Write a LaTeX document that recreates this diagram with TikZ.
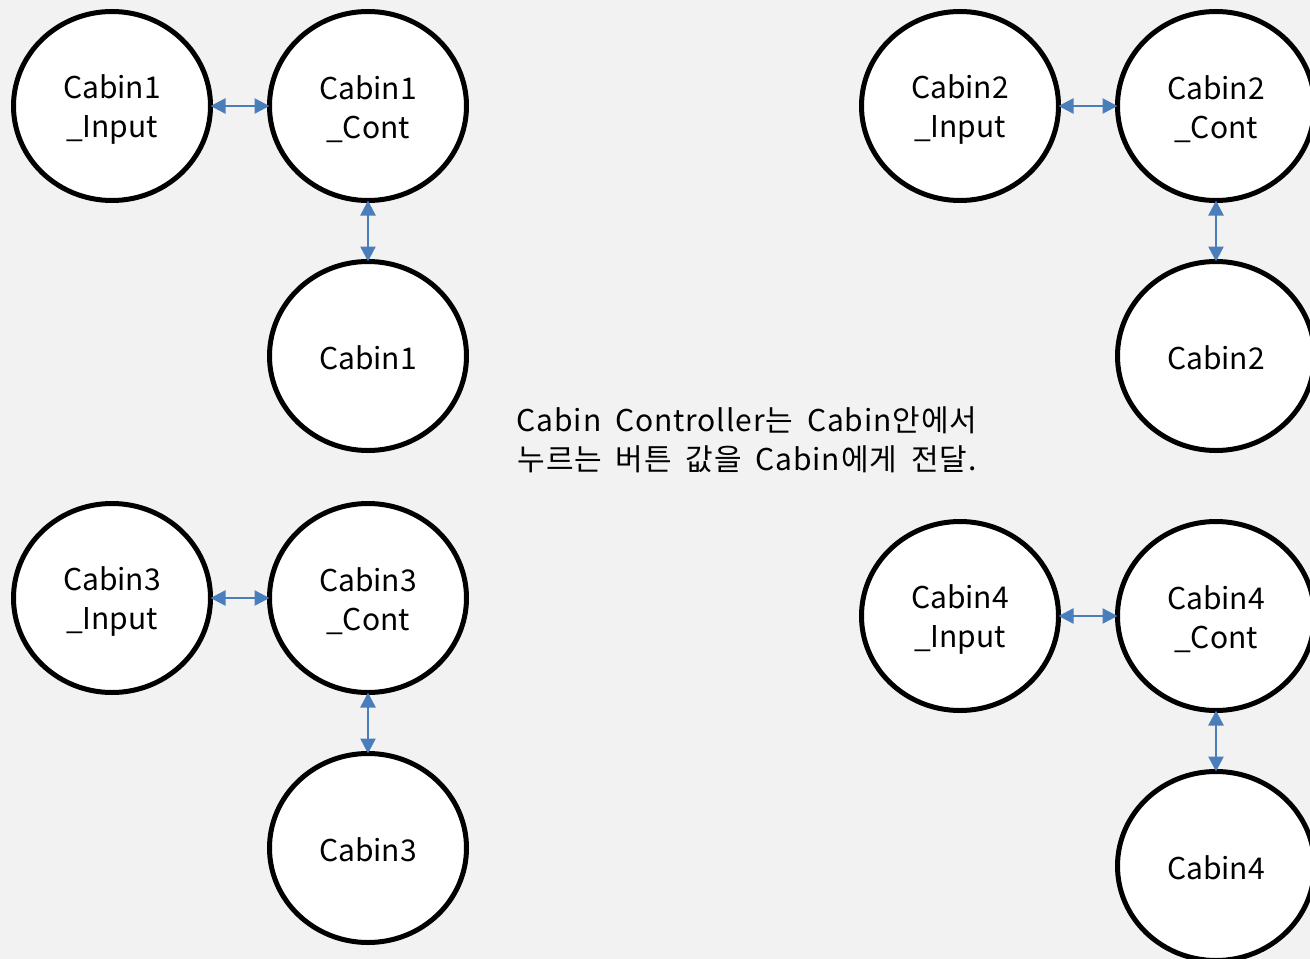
\documentclass[tikz,border=0pt]{standalone}
\usepackage{fontspec}
\setmainfont{Noto Sans CJK KR}
\newfontfamily\notefont[WordSpace=1.8,LetterSpace=3]{Noto Sans CJK KR}
\usetikzlibrary{arrows.meta,shapes.geometric}
\definecolor{bg}{HTML}{F2F2F2}
\definecolor{arr}{HTML}{4A7EBB}
\newcommand{\twoup}{\rule{0pt}{31pt}}
\newcommand{\oneup}{\rule{0pt}{28pt}}
\begin{document}
\begin{tikzpicture}[x=1pt,y=-1pt,
  circ/.style={ellipse,draw=black,line width=5pt,fill=white,minimum width=197pt,minimum height=189pt,inner sep=0pt,align=center,font=\fontsize{30}{39}\selectfont},
  link/.style={arr,line width=2.5pt,{Triangle[length=15pt,width=15pt]}-{Triangle[length=15pt,width=15pt]},shorten <=-2.5pt,shorten >=-2.5pt}]
\fill[bg] (0,0) rectangle (1310,959);
\useasboundingbox (0,0) rectangle (1310,959);
\node[circ] (c1i) at (112,106) {\twoup Cabin1\\\_Input};
\node[circ] (c1c) at (368,106) {\twoup Cabin1\\\_Cont};
\node[circ] (c1) at (368,356) {\oneup Cabin1};
\node[circ] (c2i) at (960,106) {\twoup Cabin2\\\_Input};
\node[circ] (c2c) at (1216,106) {\twoup Cabin2\\\_Cont};
\node[circ] (c2) at (1216,356) {\oneup Cabin2};
\node[circ] (c3i) at (112,598) {\twoup Cabin3\\\_Input};
\node[circ] (c3c) at (368,598) {\twoup Cabin3\\\_Cont};
\node[circ] (c3) at (368,848) {\oneup Cabin3};
\node[circ] (c4i) at (960,616) {\twoup Cabin4\\\_Input};
\node[circ] (c4c) at (1216,616) {\twoup Cabin4\\\_Cont};
\node[circ] (c4) at (1216,866) {\oneup Cabin4};
\draw[link] (c1i) -- (c1c);
\draw[link] (c1c) -- (c1);
\draw[link] (c2i) -- (c2c);
\draw[link] (c2c) -- (c2);
\draw[link] (c3i) -- (c3c);
\draw[link] (c3c) -- (c3);
\draw[link] (c4i) -- (c4c);
\draw[link] (c4c) -- (c4);
\node[align=center,font=\notefont\fontsize{30}{39}\selectfont] (note) at (747,440) {Cabin Controller는 Cabin안에서\\누르는 버튼 값을 Cabin에게 전달.};
\end{tikzpicture}
\end{document}
